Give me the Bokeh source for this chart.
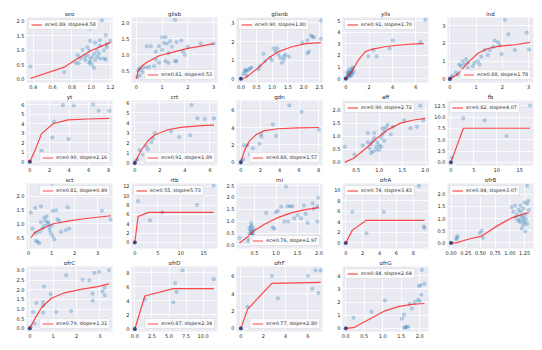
from bokeh.plotting import figure
from bokeh.layouts import gridplot
from bokeh.models import Range1d, FixedTicker, PrintfTickFormatter
from bokeh.embed import file_html
from bokeh.resources import INLINE

# ---------------- data ----------------
titles = ["seo", "glisb", "glisnb", "ylls", "ind",
          "yt", "crt", "gdn", "aff", "fb",
          "sct", "rtb", "mi", "ofrA", "ofrB",
          "ofrC", "ofrD", "ofrF", "ofrG"]
ec_vals = [0.89, 0.81, 0.90, 0.91, 0.88,
           0.90, 0.91, 0.88, 0.90, 0.82,
           0.81, 0.55, 0.76, 0.74, 0.84,
           0.79, 0.87, 0.77, 0.84]
slope_vals = [4.58, 0.53, 1.80, 1.70, 1.78,
              2.16, 1.89, 1.57, 2.72, 4.07,
              0.49, 5.73, 1.97, 3.43, 3.07,
              1.31, 2.34, 2.80, 2.64]

seo_x = [0.37, 0.72, 1.11, 0.99, 1.15, 1.09, 0.99, 1.04, 1.16, 0.91, 0.98, 1.06, 1.03, 0.96, 0.93, 0.89, 0.99, 1.06,
         1.09, 1.13, 0.87, 0.84, 0.99, 1.01, 1.03, 1.15, 1.16, 0.94, 0.98, 1.09, 1.13, 0.86, 1.04, 1.08, 1.01, 1.20, 0.96]
seo_y = [0.44, 0.24, 2.03, 1.74, 1.52, 1.34, 1.32, 1.26, 1.21, 1.01, 0.99, 0.99, 0.88, 0.82, 0.77, 0.71, 0.71, 0.77,
         0.71, 0.71, 0.55, 0.55, 0.60, 0.49, 0.38, 0.68, 1.10, 0.66, 0.55, 1.15, 0.99, 0.82, 0.66, 0.88, 0.77, 1.32, 1.10]
seo_fx = [0.37, 0.72, 0.86, 0.99, 1.10, 1.20]
seo_fy = [0.02, 0.41, 0.71, 0.97, 1.13, 1.27]

glisb_x = [1.50, 1.00, 1.13, 0.88, 1.31, 1.06, 1.19, 1.75, 1.81, 1.88, 1.56, 1.50, 1.25, 1.00, 1.13, 0.75, 0.69, 0.50, 0.38,
           0.25, 0.13, 0.88, 1.25, 0.75, 2.50, 3.00, 0.40, 0.56, 1.56, 0.75, 0.03, 0.06, 0.10, 0.19, 0.25, 2.00, 1.38]
glisb_y = [2.10, 1.55, 1.55, 1.27, 1.43, 1.37, 1.35, 1.45, 1.10, 1.00, 0.80, 0.80, 1.05, 1.15, 0.80, 0.85, 0.65, 0.62, 0.60,
           0.45, 0.35, 0.75, 0.75, 0.50, 1.35, 1.35, 1.27, 1.27, 1.40, 1.10, 0.30, 0.50, 0.57, 0.53, 0.60, 1.25, 1.25]
glisb_fx = [0.0, 0.06, 0.19, 0.38, 0.88, 1.5, 2.0, 2.5, 3.0]
glisb_fy = [0.25, 0.47, 0.63, 0.75, 0.97, 1.10, 1.20, 1.27, 1.35]

glisnb_x = [0, 0.08, 0.13, 0.13, 0.18, 0.24, 0.29, 0.34, 0.18, 0.56, 0.61, 0.72, 0.77, 0.94, 0.99, 1.10, 1.04, 1.15,
            1.20, 1.26, 1.31, 1.37, 1.37, 1.42, 1.53, 1.96, 2.12, 2.23, 2.28, 2.33, 2.17, 2.12, 2.55, 2.55]
glisnb_y = [0, 0.26, 0.38, 0.48, 0.43, 0.48, 0.55, 0.60, 0.17, 0.51, 0.69, 1.34, 0.94, 1.11, 0.99, 1.46, 1.63, 1.63,
            1.29, 1.11, 0.86, 1.03, 1.20, 1.29, 1.20, 1.94, 2.06, 2.32, 2.26, 2.23, 1.46, 1.37, 3.12, 2.14]
glisnb_fx = [0, 0.13, 0.24, 0.56, 0.88, 1.20, 1.63, 2.06, 2.55]
glisnb_fy = [0, 0.04, 0.17, 0.60, 1.11, 1.46, 1.72, 1.89, 1.94]

ylls_x = [0, 0.14, 0.22, 0.28, 0.33, 0.42, 0.50, 0.56, 0.14, 0.28, 0.36, 0.44, 0.22, 0.06, 0.56, 0.50, 0.61, 0.69,
          1.94, 2.36, 2.64, 3.75, 4.03, 6.39, 6.81]
ylls_y = [0, 0.27, 0.41, 0.55, 0.33, 0.60, 0.69, 0.88, 0.55, 0.82, 0.22, 0.49, 0.14, 0.11, 0.49, 0.27, 0.96, 0.60,
          1.92, 2.47, 1.92, 2.61, 3.30, 3.16, 5.08]
ylls_fx = [0, 0.56, 1.11, 1.67, 2.22, 3.33, 4.44, 5.56, 6.67]
ylls_fy = [0, 0.69, 1.65, 2.33, 2.53, 2.75, 2.88, 2.97, 3.02]

ind_x = [0, 0.04, 0.10, 0.23, 0.30, 0.36, 0.42, 0.49, 0.55, 0.62, 0.68, 0.68, 0.81, 0.88, 0.94, 1.07, 1.13, 1.20, 1.33,
         1.45, 1.52, 1.65, 1.71, 1.84, 1.90, 1.97, 2.10, 2.23, 2.48, 2.93, 3.02]
ind_y = [0, 0.09, 0.18, 0.36, 0.25, 0.81, 0.72, 0.99, 0.81, 1.11, 0.90, 0.63, 0.45, 0.72, 0.90, 0.99, 0.81, 1.26, 1.62,
         1.35, 1.62, 1.80, 2.15, 2.06, 1.89, 1.40, 3.32, 2.51, 1.62, 2.60, 1.65]
ind_fx = [0, 0.30, 0.68, 1.07, 1.45, 1.84, 2.48, 3.06]
ind_fy = [0, 0.27, 0.90, 1.44, 1.71, 1.83, 1.92, 2.05]

yt_x = [0, 1.18, 2.29, 2.45, 3.36, 3.93, 4.47, 6.42, 6.99, 8.07]
yt_y = [0, 1.14, 2.54, 4.23, 5.96, 2.38, 5.93, 6.03, 5.37, 5.37]
yt_fx = [0, 0.5, 1.18, 2.35, 3.87, 5.88, 8.07]
yt_fy = [0, 1.14, 2.93, 4.0, 4.4, 4.5, 4.56]

crt_x = [0, 0.08, 0.21, 0.39, 0.66, 0.92, 1.05, 1.32, 1.45, 1.58, 2.89, 3.55, 4.42, 4.53, 5.0, 5.58, 6.32]
crt_y = [0, 0.22, 0.37, 1.29, 0.83, 1.66, 1.35, 2.06, 2.46, 2.98, 3.14, 2.58, 2.74, 5.75, 4.43, 4.37, 4.43]
crt_fx = [0, 0.53, 1.05, 1.58, 2.63, 3.68, 5.26, 6.32]
crt_fy = [0, 1.29, 2.2, 2.77, 3.3, 3.54, 3.7, 3.75]

gdn_x = [0, 0.07, 0.24, 0.34, 0.68, 0.92, 1.25, 1.93, 2.10, 2.10, 3.29, 3.63, 4.98, 6.24, 8.03]
gdn_y = [0, 0.18, 0.36, 1.96, 1.96, 0.89, 1.61, 2.14, 2.93, 3.21, 4.36, 3.04, 6.54, 5.79, 3.75]
gdn_fx = [0, 0.41, 0.92, 1.6, 2.44, 3.8, 5.83, 8.03]
gdn_fy = [0, 1.43, 2.5, 3.2, 3.64, 3.86, 3.96, 4.0]

aff_x = [0.25, 0.46, 0.64, 0.75, 0.79, 0.82, 0.86, 0.89, 0.82, 0.86, 0.93, 0.96, 1.00, 1.04, 1.07, 1.11, 1.07, 1.14,
         1.18, 1.11, 1.00, 0.93, 1.04, 1.25, 1.29, 1.54, 1.68, 1.82, 1.89, 1.96, 0.75, 0.89]
aff_y = [0.60, 0.30, 0.65, 1.13, 0.54, 0.71, 0.83, 0.95, 0.36, 0.42, 0.60, 0.77, 0.65, 0.95, 1.07, 1.19, 1.31, 1.33,
         1.45, 0.83, 0.48, 0.48, 0.60, 1.07, 1.37, 1.62, 1.31, 1.37, 2.18, 1.61, 0.77, 1.13]
aff_fx = [0.25, 0.46, 0.75, 0.96, 1.18, 1.46, 1.75, 2.0]
aff_fy = [0, 0.18, 0.60, 0.95, 1.25, 1.51, 1.63, 1.69]

fb_x = [0, 0.15, 2.72, 7.35, 12.13, 17.28]
fb_y = [0, 1.03, 9.75, 9.34, 5.84, 12.57]
fb_fx = [0, 2.72, 17.28]
fb_fy = [0, 7.55, 7.55]

sct_x = [0.10, 0.17, 0.29, 0.32, 0.39, 0.49, 0.54, 0.46, 0.61, 0.68, 0.75, 0.78, 0.83, 0.87, 0.90, 0.93, 0.97, 1.00,
         1.04, 1.04, 1.12, 1.19, 1.26, 1.33, 1.41, 1.62, 1.70, 1.77, 3.19, 3.58, 0.32, 0.54, 0.68, 1.01]
sct_y = [1.42, 0.83, 1.58, 0.67, 0.36, 0.72, 1.64, 0.30, 0.83, 0.94, 1.11, 1.28, 1.00, 1.06, 0.89, 0.78, 0.67, 0.94,
         1.47, 0.56, 0.44, 1.50, 1.17, 1.11, 0.72, 0.78, 1.61, 0.83, 1.48, 1.17, 0.39, 1.06, 1.22, 2.39]
sct_fx = [0.10, 0.25, 0.46, 0.75, 1.04, 1.77, 2.49, 3.58]
sct_fy = [0.50, 0.67, 0.78, 0.89, 1.00, 1.11, 1.20, 1.30]

rtb_x = [0, 0.72, 3.32, 5.98, 13.55, 17.16]
rtb_y = [0, 8.85, 4.72, 6.43, 8.0, 12.13]
rtb_fx = [0, 0.72, 3.1, 17.16]
rtb_fy = [0, 5.57, 6.43, 6.43]

mi_x = [0.15, 0.35, 0.38, 0.38, 0.41, 0.42, 0.42, 0.42, 0.44, 0.46, 0.45, 0.41, 0.46, 0.46, 0.48, 0.42, 0.38, 0.77,
        0.92, 0.96, 1.00, 1.04, 1.12, 1.19, 1.23, 1.27, 1.28, 1.33, 1.38, 1.42, 1.50, 1.58, 1.65, 1.69, 1.73, 1.85,
        1.88, 1.96, 1.96, 1.98]
mi_y = [0.29, 0.17, 0.23, 0.68, 0.77, 0.93, 0.55, 0.42, 0.80, 0.48, 0.36, 0.61, 0.61, 0.42, 0.68, 0.29, 0.48, 1.35,
        0.74, 0.68, 1.38, 1.44, 1.61, 0.99, 2.46, 1.63, 0.99, 1.63, 1.63, 1.12, 1.25, 1.12, 1.66, 1.31, 0.93, 1.76,
        1.53, 0.99, 1.63, 1.99]
mi_fx = [0.15, 0.35, 0.5, 0.73, 1.04, 1.35, 1.65, 2.0]
mi_fy = [0.08, 0.36, 0.61, 0.87, 1.15, 1.35, 1.48, 1.57]

ofrA_x = [0, 0.78, 2.45, 4.5, 5.55, 8.66, 9.24, 9.32]
ofrA_y = [0, 5.93, 1.86, 5.93, 9.3, 10.87, 3.14, 2.85]
ofrA_fx = [0, 0.78, 2.45, 9.32]
ofrA_fy = [0, 2.44, 4.3, 4.3]

ofrB_x = [0, 0.09, 0.10, 0.11, 0.49, 0.52, 0.54, 1.06, 1.09, 1.12, 1.14, 1.15, 1.16, 1.18, 1.19, 1.20, 1.22, 1.23,
          1.25, 1.26, 1.27, 1.29, 1.31, 1.23, 1.20, 1.26, 1.29, 1.18, 1.23, 1.32, 1.29, 1.25, 1.03, 1.09]
ofrB_y = [0, 0.15, 0.21, 0.28, 0.40, 0.50, 0.21, 1.28, 1.03, 1.16, 0.91, 1.35, 0.97, 1.53, 1.28, 1.09, 0.91, 1.41,
          1.66, 1.16, 0.97, 1.60, 1.72, 0.72, 0.59, 0.47, 2.35, 0.84, 1.03, 1.35, 0.78, 0.84, 1.47, 1.53]
ofrB_fx = [0, 0.09, 0.29, 0.52, 0.80, 1.03, 1.20, 1.32]
ofrB_fy = [0, 0, 0.15, 0.28, 0.72, 1.03, 1.16, 1.25]

ofrC_x = [0, 0.04, 0.14, 0.21, 0.28, 0.61, 0.57, 0.57, 0.57, 0.89, 1.13, 1.56, 1.77, 2.26, 2.55, 2.69, 2.69, 2.76,
          2.97, 3.11, 3.21, 3.21, 3.39, 0.78]
ofrC_y = [0, 0.08, 0.85, 0.25, 1.31, 2.16, 1.36, 1.18, 0.82, 1.77, 0.85, 2.75, 0.90, 2.51, 2.49, 1.80, 1.43, 2.87,
          2.92, 1.92, 2.10, 1.72, 3.00, 0.38]
ofrC_fx = [0, 0.21, 0.5, 0.92, 1.49, 2.19, 2.9, 3.39]
ofrC_fy = [0, 0.49, 1.07, 1.56, 1.84, 2.02, 2.16, 2.30]

ofrD_x = [0, 1.46, 5.63, 5.87, 6.12, 6.99, 11.55]
ofrD_y = [0, 4.16, 3.80, 6.52, 5.29, 8.37, 7.10]
ofrD_fx = [0, 1.46, 5.63, 11.55]
ofrD_fy = [0, 4.7, 5.75, 5.75]

ofrF_x = [0, 0.6, 2.77, 3.31, 5.99, 6.39, 6.69, 6.93, 7.14]
ofrF_y = [0, 2.47, 6.0, 3.45, 6.0, 4.55, 6.65, 4.07, 6.65]
ofrF_fx = [0, 0.6, 2.77, 7.14]
ofrF_fy = [0, 2.18, 5.16, 5.27]

ofrG_x = [0, 0.21, 0.70, 1.06, 1.52, 1.58, 1.58, 1.61, 1.65, 1.69, 1.73, 1.79, 1.87, 1.96, 1.98, 2.03, 2.04, 2.06,
          2.13, 2.00]
ofrG_y = [0, 0.80, 1.26, 2.11, 0.73, 1.02, 0.05, 0.07, 0.10, 0.12, 1.87, 1.50, 1.99, 2.18, 3.22, 3.27, 2.55, 4.44,
          3.39, 2.06]
ofrG_fx = [0, 0.21, 0.70, 1.06, 1.42, 1.78, 2.13]
ofrG_fy = [0, 0.05, 0.78, 1.33, 1.65, 1.82, 1.89]

xs = [seo_x, glisb_x, glisnb_x, ylls_x, ind_x, yt_x, crt_x, gdn_x, aff_x, fb_x,
      sct_x, rtb_x, mi_x, ofrA_x, ofrB_x, ofrC_x, ofrD_x, ofrF_x, ofrG_x]
ys = [seo_y, glisb_y, glisnb_y, ylls_y, ind_y, yt_y, crt_y, gdn_y, aff_y, fb_y,
      sct_y, rtb_y, mi_y, ofrA_y, ofrB_y, ofrC_y, ofrD_y, ofrF_y, ofrG_y]
fxs = [seo_fx, glisb_fx, glisnb_fx, ylls_fx, ind_fx, yt_fx, crt_fx, gdn_fx, aff_fx, fb_fx,
       sct_fx, rtb_fx, mi_fx, ofrA_fx, ofrB_fx, ofrC_fx, ofrD_fx, ofrF_fx, ofrG_fx]
fys = [seo_fy, glisb_fy, glisnb_fy, ylls_fy, ind_fy, yt_fy, crt_fy, gdn_fy, aff_fy, fb_fy,
       sct_fy, rtb_fy, mi_fy, ofrA_fy, ofrB_fy, ofrC_fy, ofrD_fy, ofrF_fy, ofrG_fy]

x_ticks = [[0.4, 0.6, 0.8, 1.0, 1.2], [0, 1, 2, 3], [0, 0.5, 1.0, 1.5, 2.0, 2.5], [0, 2, 4, 6], [0, 1, 2, 3],
           [0, 2, 4, 6, 8], [0, 2, 4, 6], [0, 2, 4, 6, 8], [0.5, 1.0, 1.5, 2.0], [0, 5, 10, 15],
           [0, 1, 2, 3], [0, 5, 10, 15], [0.5, 1.0, 1.5, 2.0], [0, 2, 4, 6, 8], [0, 0.25, 0.5, 0.75, 1.0, 1.25],
           [0, 1, 2, 3], [0, 2.5, 5.0, 7.5, 10.0], [0, 2, 4, 6], [0, 0.5, 1.0, 1.5, 2.0]]
y_ticks = [[0, 0.5, 1.0, 1.5, 2.0], [0.5, 1.0, 1.5, 2.0], [0, 1, 2, 3], [0, 1, 2, 3, 4, 5], [0, 1, 2, 3],
           [0, 1, 2, 3, 4, 5, 6], [0, 1, 2, 3, 4, 5, 6], [0, 2, 4, 6], [0, 0.5, 1.0, 1.5, 2.0], [0, 2.5, 5.0, 7.5, 10.0, 12.5],
           [0.5, 1.0, 1.5, 2.0], [0, 2, 4, 6, 8, 10, 12], [0, 0.5, 1.0, 1.5, 2.0, 2.5], [0, 2, 4, 6, 8, 10], [0, 0.5, 1.0, 1.5, 2.0],
           [0, 0.5, 1.0, 1.5, 2.0, 2.5, 3.0], [0, 2, 4, 6, 8], [0, 2, 4, 6], [0, 1, 2, 3, 4]]

# axis limits and legend placement per panel
x_lims = [(0.33, 1.22), (-0.19, 3.15), (-0.14, 2.6), (-0.28, 7.08), (-0.09, 3.19),
          (-0.34, 8.4), (-0.26, 6.6), (-0.44, 8.4), (0.2, 2.07), (-0.74, 18.0),
          (-0.09, 3.65), (-0.72, 18.0), (0.08, 2.08), (-0.39, 9.8), (-0.06, 1.4),
          (-0.14, 3.54), (-0.49, 12.1), (-0.39, 7.3), (-0.09, 2.24)]
y_lims = [(-0.12, 2.13), (0.13, 2.17), (-0.2, 3.29), (-0.33, 5.27), (-0.2, 3.45),
          (-0.4, 6.45), (-0.25, 6.2), (-0.36, 7.1), (-0.12, 2.38), (-0.7, 13.7),
          (0.11, 2.47), (-1.3, 12.6), (-0.15, 2.59), (-1.05, 11.3), (-0.23, 2.44),
          (-0.16, 3.2), (-0.36, 8.9), (-0.36, 7.1), (-0.24, 4.7)]
legend_locs = ["top_left", "bottom_right", "top_left", "top_left", "bottom_right",
               "bottom_right", "bottom_right", "bottom_right", "top_left", "top_left",
               "top_right", "top_left", "bottom_right", "top_left", "top_left",
               "bottom_right", "bottom_right", "bottom_right", "top_left"]

# ---------------- layout ----------------
col_w = [115, 105, 105, 106, 111]
col_l = [26, 16, 16, 17, 16]
col_r = [3, 3, 3, 3, 9]
row_h = [91, 83, 83, 83]
row_t = [17, 9, 9, 9]
row_b = [8, 8, 8, 8]

TXT = "#262626"
BG = "#EAEAF2"


def decimals(ticks):
    for d in range(4):
        if all(abs(round(t, d) - t) < 1e-9 for t in ticks):
            return d
    return 3


def panel(i):
    r, c = divmod(i, 5)
    p = figure(width=col_w[c], height=row_h[r], output_backend="svg", toolbar_location=None,
               x_range=Range1d(*x_lims[i]), y_range=Range1d(*y_lims[i]),
               min_border_left=col_l[c], min_border_right=col_r[c],
               min_border_top=row_t[r], min_border_bottom=row_b[r],
               title=titles[i])
    p.background_fill_color = BG
    p.border_fill_color = "white"
    p.outline_line_color = None
    p.title.align = "center"
    p.title.text_font_size = "5.5px"
    p.title.text_font_style = "normal"
    p.title.text_font = "DejaVu Sans"
    p.title.text_color = TXT
    p.title.standoff = 1
    xt = FixedTicker(ticks=x_ticks[i])
    yt = FixedTicker(ticks=y_ticks[i])
    p.xaxis.ticker = xt
    p.yaxis.ticker = yt
    p.xaxis.formatter = PrintfTickFormatter(format="%%.%df" % decimals(x_ticks[i]))
    p.yaxis.formatter = PrintfTickFormatter(format="%%.%df" % decimals(y_ticks[i]))
    p.xgrid.ticker = xt
    p.ygrid.ticker = yt
    for ax in (p.xaxis[0], p.yaxis[0]):
        ax.axis_line_color = None
        ax.major_tick_line_color = None
        ax.minor_tick_line_color = None
        ax.major_tick_out = 0
        ax.major_tick_in = 0
        ax.minor_tick_out = 0
        ax.minor_tick_in = 0
        ax.major_label_text_font_size = "5px"
        ax.major_label_text_font = "DejaVu Sans"
        ax.major_label_text_color = TXT
        ax.major_label_standoff = 2
    p.grid.grid_line_color = "white"
    p.grid.grid_line_width = 0.8

    p.scatter(xs[i], ys[i], size=3.6, fill_color="#1f77b4", fill_alpha=0.28,
              line_color="#1f77b4", line_alpha=0.28, line_width=0.5)
    zx = [a for a, b in zip(xs[i], ys[i]) if a == 0 and b == 0]
    if zx:
        p.scatter(zx, [0] * len(zx), size=3.4, fill_color="#2a4a85", line_color="#2a4a85",
                  line_width=0.5)
    p.line(fxs[i], fys[i], line_color="red", line_alpha=0.7, line_width=1.2,
           legend_label="ec=%.2f, slope=%.2f" % (ec_vals[i], slope_vals[i]))
    lg = p.legend[0]
    lg.location = legend_locs[i]
    lg.label_text_font_size = "4.8px"
    lg.label_text_font = "DejaVu Sans"
    lg.label_text_color = TXT
    lg.glyph_width = 11
    lg.glyph_height = 5
    lg.label_height = 5
    lg.label_standoff = 3
    lg.padding = 2
    lg.spacing = 0
    lg.margin = 2
    lg.border_line_color = "#cccccc"
    lg.border_line_width = 0.6
    lg.background_fill_color = "white"
    lg.background_fill_alpha = 0.8
    return p


cells = [panel(i) for i in range(len(titles))]
grid_rows = [cells[k:k + 5] for k in range(0, 20, 5)]
grid_rows[-1] = grid_rows[-1] + [None]

g = gridplot(grid_rows, toolbar_location=None)

open("out.html", "w").write(file_html(g, INLINE))
